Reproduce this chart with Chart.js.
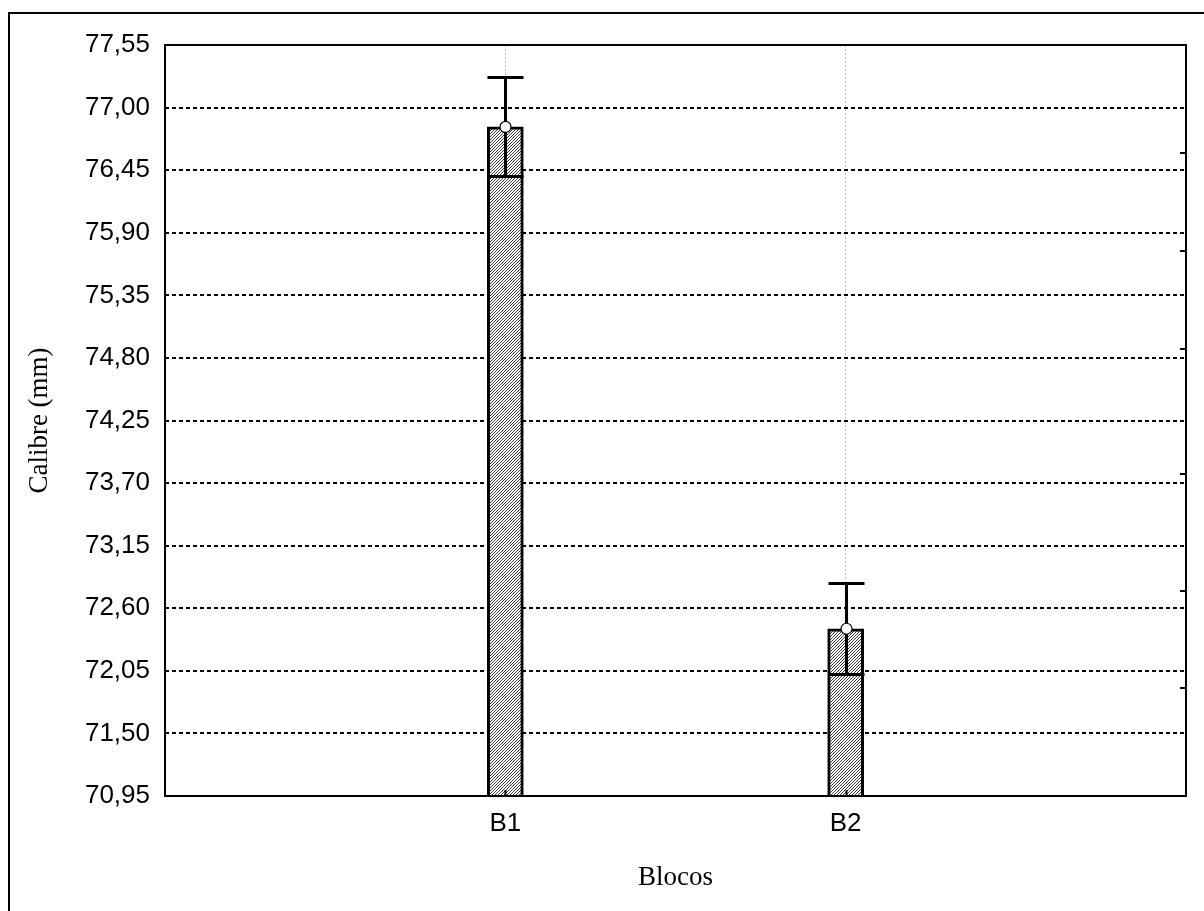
<!DOCTYPE html>
<html>
<head>
<meta charset="utf-8">
<script src="https://cdn.jsdelivr.net/npm/chart.js@4.4.1/dist/chart.umd.min.js"></script>
<style>
  html, body { margin: 0; padding: 0; background: #fff; }
  #wrap { position: relative; width: 1204px; height: 911px; overflow: hidden; }
</style>
</head>
<body>
<div id="wrap"><canvas id="chart" width="1204" height="911"></canvas></div>
<script>
/* -------- Daten -------- */
const categories = ["B1", "B2"];
const means = [76.83, 72.42];          // Mittelwert
const errors = [0.435, 0.40];          // +/- Fehler
const yTicks = [70.95, 71.50, 72.05, 72.60, 73.15, 73.70, 74.25, 74.80, 75.35, 75.90, 76.45, 77.00, 77.55];
const rightMinorTicks = [76.60, 75.74, 74.88, 73.78, 72.75, 71.90];

const SANS = '"Liberation Sans", Arial, sans-serif';
const SERIF = '"Liberation Serif", "Times New Roman", serif';

/* -------- Schraffur -------- */
function makeHatch() {
  const c = document.createElement("canvas");
  c.width = 3; c.height = 3;
  const g = c.getContext("2d");
  g.fillStyle = "#fff";
  g.fillRect(0, 0, 3, 3);
  g.strokeStyle = "#222";
  g.lineWidth = 0.9;
  g.beginPath();
  g.moveTo(0, 3); g.lineTo(3, 0);
  g.moveTo(-1, 1); g.lineTo(1, -1);
  g.moveTo(2, 4); g.lineTo(4, 2);
  g.stroke();
  return g.createPattern(c, "repeat");
}

/* -------- Plugins -------- */
const framePlugin = {
  id: "frame",
  beforeDraw(chart) {
    const ctx = chart.ctx;
    ctx.save();
    ctx.strokeStyle = "#000";
    ctx.lineWidth = 2;
    ctx.strokeRect(9, 13, 1300, 1000);
    ctx.restore();
  },
  afterDraw(chart) {
    const { ctx, chartArea: a, scales } = chart;
    ctx.save();
    ctx.strokeStyle = "#000";
    ctx.lineWidth = 2;
    ctx.strokeRect(a.left, a.top, a.right - a.left, a.bottom - a.top);

    // kleine Striche innen
    ctx.beginPath();
    categories.forEach((c, i) => {
      const x = Math.round(scales.x.getPixelForValue(i + 1)) + 0.5;
      ctx.moveTo(x, a.bottom); ctx.lineTo(x, a.bottom - 6);
    });
    rightMinorTicks.forEach(v => {
      const y = Math.round(scales.y.getPixelForValue(v));
      ctx.moveTo(a.right, y); ctx.lineTo(a.right - 6, y);
    });
    ctx.stroke();
    ctx.restore();
  }
};

const errorBarPlugin = {
  id: "errorBars",
  afterDatasetsDraw(chart) {
    const { ctx, scales } = chart;
    const half = 18;
    ctx.save();
    ctx.strokeStyle = "#000";
    ctx.lineWidth = 3;
    means.forEach((m, i) => {
      const x = Math.round(scales.x.getPixelForValue(i + 1)) + 0.5;
      const yMean = scales.y.getPixelForValue(m);
      const yTop = Math.round(scales.y.getPixelForValue(m + errors[i])) + 0.5;
      const yLow = Math.round(scales.y.getPixelForValue(m - errors[i])) + 0.5;
      ctx.beginPath();
      ctx.moveTo(x, yLow); ctx.lineTo(x, yTop);
      ctx.moveTo(x - half, yTop); ctx.lineTo(x + half, yTop);
      ctx.moveTo(x - half, yLow); ctx.lineTo(x + half, yLow);
      ctx.stroke();

      // Punkt
      ctx.beginPath();
      ctx.arc(x, yMean, 5.5, 0, Math.PI * 2);
      ctx.fillStyle = "#fff";
      ctx.fill();
      ctx.lineWidth = 1.2;
      ctx.stroke();
      ctx.lineWidth = 3;
    });
    ctx.restore();
  }
};

/* -------- Chart -------- */
const ctx = document.getElementById("chart").getContext("2d");
const chart = new Chart(ctx, {
  type: "bar",
  data: {
    datasets: [{
      data: means.map((m, i) => ({ x: i + 1, y: m })),
      backgroundColor: makeHatch(),
      borderColor: "#000",
      borderWidth: 3,
      borderSkipped: false,
      barThickness: 36
    }]
  },
  options: {
    responsive: false,
    animation: false,
    layout: { padding: { left: 0, top: 45, right: 18, bottom: 0 } },
    plugins: { legend: { display: false }, tooltip: { enabled: false } },
    scales: {
      x: {
        type: "linear",
        min: 0,
        max: 3,
        offset: false,
        afterBuildTicks: s => { s.ticks = categories.map((c, i) => ({ value: i + 1 })); },
        afterFit: s => { s.height = 115; },
        ticks: {
          callback: v => categories[v - 1] ?? "",
          color: "#000",
          font: { family: SANS, size: 26 },
          padding: 12,
          maxRotation: 0
        },
        grid: { color: "#bbb", lineWidth: 1, drawTicks: false, offset: false },
        border: { display: false, dash: [2, 2] },
        title: {
          display: true,
          text: "Blocos",
          color: "#000",
          font: { family: SERIF, size: 27 },
          padding: { top: 0, bottom: 17 }
        }
      },
      y: {
        min: 70.95,
        max: 77.55,
        afterBuildTicks: s => { s.ticks = yTicks.map(v => ({ value: v })); },
        afterFit: s => { s.width = 165; },
        ticks: {
          callback: v => v.toFixed(2).replace(".", ","),
          color: "#000",
          font: { family: SANS, size: 26 },
          padding: 15
        },
        grid: { color: "#000", lineWidth: 2, drawTicks: false },
        border: { display: false, dash: [4, 3] },
        title: {
          display: true,
          text: "Calibre (mm)",
          color: "#000",
          font: { family: SERIF, size: 27 },
          padding: { top: 24, bottom: 0 }
        }
      }
    }
  },
  plugins: [framePlugin, errorBarPlugin]
});
</script>
</body>
</html>
